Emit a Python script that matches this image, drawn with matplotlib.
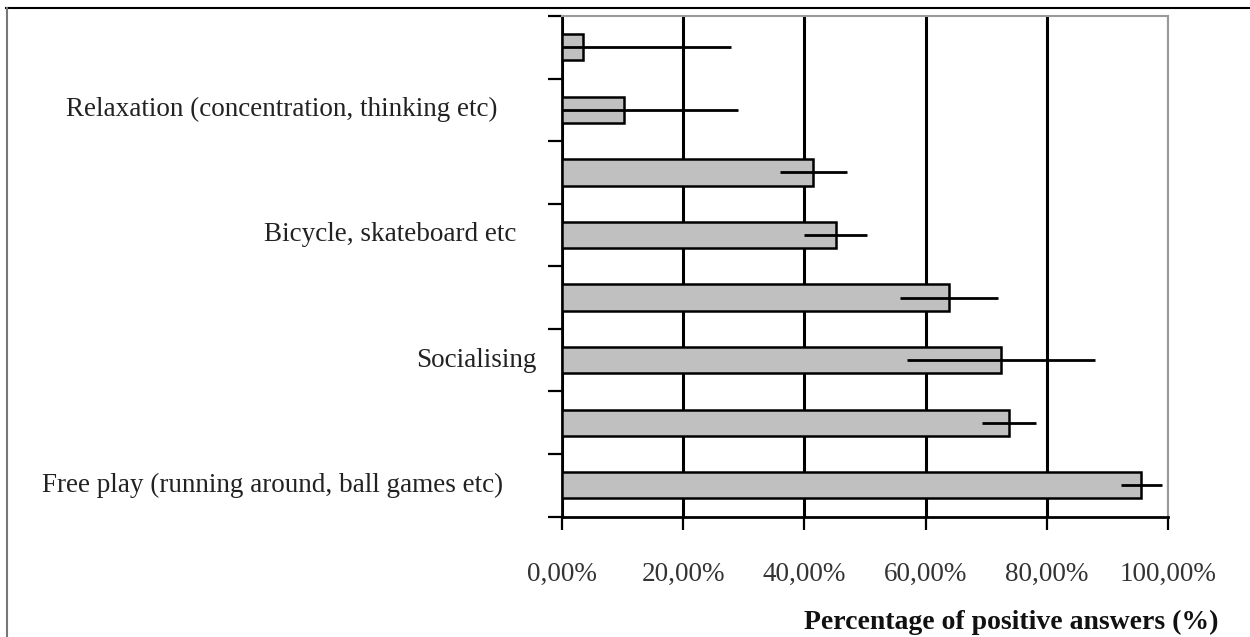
import numpy as np
import matplotlib.pyplot as plt
from matplotlib.lines import Line2D
from matplotlib.ticker import FuncFormatter, FixedLocator

plt.rcParams['font.family'] = ['Liberation Serif', 'DejaVu Serif']

# categories from bottom to top
labels = ["Free play (running around, ball games etc)", "",
          "Socialising", "",
          "Bicycle, skateboard etc", "",
          "Relaxation (concentration, thinking etc)", ""]
values = [95.6, 73.8, 72.4, 63.8, 45.2, 41.5, 10.2, 3.4]
errors = [3.4, 4.5, 15.5, 8.1, 5.2, 5.5, 18.9, 24.5]
xticks = [0, 20, 40, 60, 80, 100]

# label right edges in figure pixels (the original ones are uneven)
label_right = [503, None, 536, None, 516, None, 497, None]

fig = plt.figure(figsize=(12.5, 6.37), dpi=100)
ax = fig.add_axes([562 / 1250, 120.5 / 637, 606 / 1250, 500.5 / 637])

y = np.arange(len(values))
ax.barh(y, values, height=0.42, color='#c0c0c0', edgecolor='black',
        linewidth=1.8, zorder=3)
ax.errorbar(values, y, xerr=errors, fmt='none', ecolor='black',
            elinewidth=2.0, capsize=0, zorder=4)

ax.set_xlim(0, 100)
ax.set_ylim(-0.5, len(values) - 0.5)
ax.xaxis.set_major_locator(FixedLocator(xticks))
ax.xaxis.set_major_formatter(FuncFormatter(lambda v, p: f"{v:.2f}%".replace('.', ',')))
ax.tick_params(axis='x', length=9, width=1.6, direction='out', pad=24,
               labelsize=19.5, labelcolor='#333333', colors='black')
ax.xaxis.grid(True, color='black', linewidth=2.2, zorder=1)
ax.set_axisbelow(True)

# category boundaries as ticks, no labels on them
ax.yaxis.set_major_locator(FixedLocator(np.arange(-0.5, len(values), 1.0)))
ax.set_yticklabels([])
ax.tick_params(axis='y', length=10, width=1.6, direction='out')

for i, lab in enumerate(labels):
    if lab:
        ax.annotate(lab, xy=(label_right[i] / 1250, i), xycoords=('figure fraction', 'data'),
                    ha='right', va='center', fontsize=19.5, color='#222222')

for side in ['left', 'bottom']:
    ax.spines[side].set_color('black')
    ax.spines[side].set_linewidth(2.0)
for side in ['top', 'right']:
    ax.spines[side].set_color('#9a9a9a')
    ax.spines[side].set_linewidth(1.5)

fig.text(1218 / 1250, 1 - 622 / 637, "Percentage of positive answers (%)",
         ha='right', va='center', fontsize=20, fontweight='bold', color='#111111')

# outer frame lines (top and left only)
fig.add_artist(Line2D([6 / 1250, 1], [1 - 8 / 637, 1 - 8 / 637], color='black', linewidth=1.5))
fig.add_artist(Line2D([6.5 / 1250, 6.5 / 1250], [0, 1 - 8 / 637], color='#777777', linewidth=1.5))

fig.savefig('out.png', dpi=100)
